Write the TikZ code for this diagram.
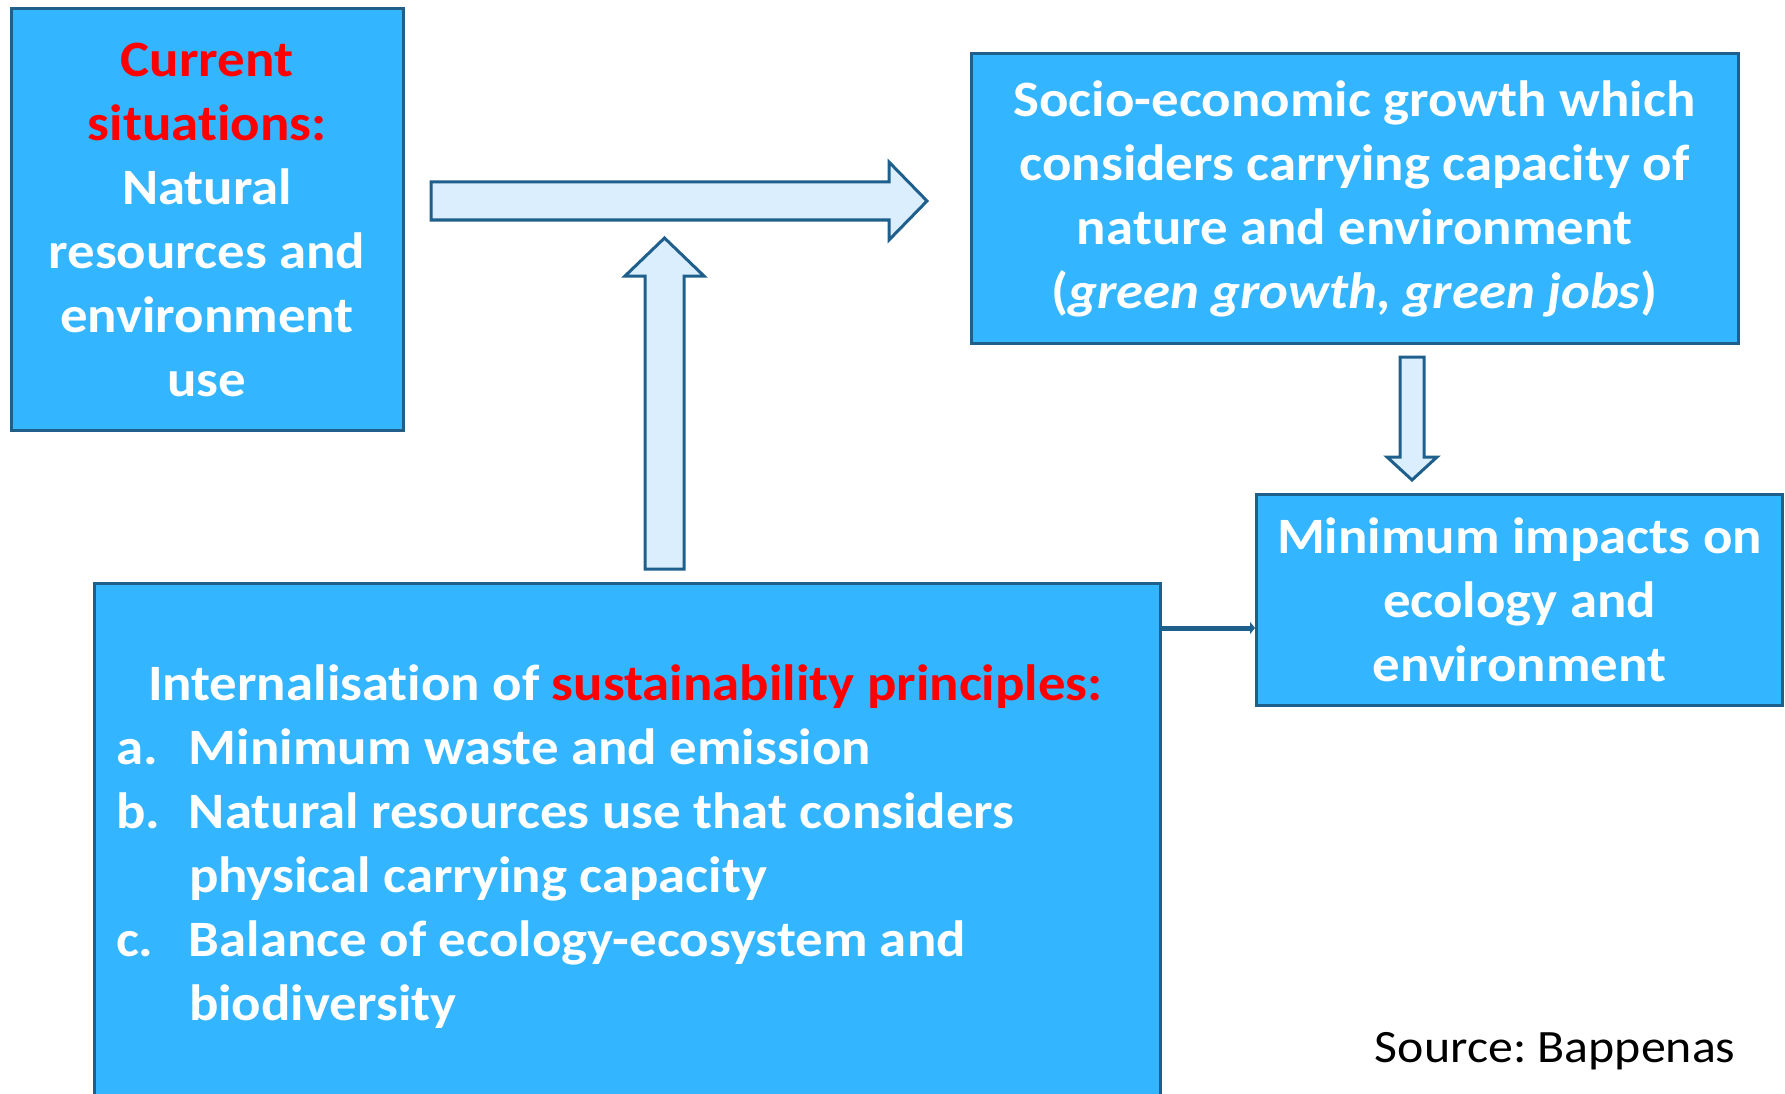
\documentclass[tikz,border=0pt]{standalone}
\usepackage{fontspec}
\setmainfont{Carlito}[FakeStretch=1.075, Ligatures=NoCommon]
\usepackage{xcolor}
\usetikzlibrary{arrows.meta}
\definecolor{boxblue}{RGB}{51,181,255}
\definecolor{edgeblue}{RGB}{31,95,140}
\definecolor{arrowfill}{RGB}{218,238,253}
\definecolor{keyred}{RGB}{255,0,0}
\frenchspacing

\begin{document}
\begin{tikzpicture}[x=1pt, y=-1pt,
    box/.style={draw=edgeblue, fill=boxblue, line width=3pt, text=white, align=center,
      font=\fontsize{51}{64}\selectfont\bfseries, inner sep=0pt},
    blockarrow/.style={draw=edgeblue, fill=arrowfill, line width=3pt, line join=miter}]
  \useasboundingbox (0,0) rectangle (1785,1094);

  \node[box, minimum width=392pt, minimum height=421pt] (current) at (207,219.5)
    {\textcolor{keyred}{Current}\\ \textcolor{keyred}{situations:}\\ Natural\\ resources and\\ environment\\ use};
  \node[box, minimum width=767pt, minimum height=289pt] (growth) at (1354.5,198.5)
    {Socio-economic growth which\\ considers carrying capacity of\\ nature and environment\\ (\textit{green growth, green jobs})};
  \node[box, minimum width=526pt, minimum height=211pt] (impact) at (1519.5,600)
    {Minimum impacts on\\ ecology and\\ environment};
  \node[box, minimum width=1066pt, minimum height=528pt, text width=1022pt, align=flush left] (principles) at (627,847)
    {\hspace*{32pt}Internalisation of \textcolor{keyred}{sustainability principles:}\\
     \makebox[73pt][l]{a.}Minimum waste and emission\\
     \makebox[73pt][l]{b.}Natural resources use that considers\\
     \hspace*{73pt}physical carrying capacity\\
     \makebox[73pt][l]{c.}Balance of ecology-ecosystem and\\
     \hspace*{73pt}biodiversity};

  \node[anchor=base east, font=\fontsize{46.4}{56}\selectfont] (source) at (1739,1062) {Source: Bappenas};

  % block arrows
  \draw[blockarrow] (431,182) -- (889,182) -- (889,162) -- (927,201) -- (889,240) -- (889,220) -- (431,220) -- cycle;
  \draw[blockarrow] (645,569) -- (645,276) -- (625,276) -- (664.5,238) -- (704,276) -- (684,276) -- (684,569) -- cycle;
  \draw[blockarrow] (1400,357) -- (1424,357) -- (1424,457) -- (1437,457) -- (1412,480) -- (1387,457) -- (1400,457) -- cycle;

  \draw[edgeblue, line width=5pt, -{Triangle[length=5pt,width=12pt]}] (principles.east |- 0,628) -- (impact.west |- 0,628);
\end{tikzpicture}
\end{document}
